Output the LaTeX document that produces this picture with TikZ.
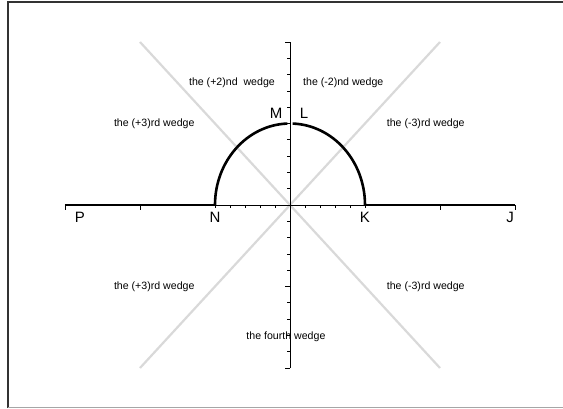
\documentclass[tikz,border=0pt]{standalone}
\usepackage{fontspec}
\setmainfont{Liberation Sans}
\usepackage{tikz}
\usetikzlibrary{positioning, calc}

\begin{document}
\begin{tikzpicture}[
    x=15pt, y=16.3pt,
    guide/.style={draw=black!15, line width=2.2pt},
    axis/.style={draw=black, line width=0.7pt},
    curve/.style={draw=black, line width=2.6pt},
    frameline/.style={draw=black!80, line width=1.4pt},
    wedgelabel/.style={font=\fontsize{10.6}{12}\selectfont, inner sep=0pt},
    ptlabel/.style={font=\fontsize{15}{17}\selectfont, inner sep=0pt}
]
    \useasboundingbox (-290pt,-203pt) rectangle (273pt,205pt);

    % frame
    \draw[frameline] (-282pt,-203pt) -- (-282pt,203pt) -- (273pt,203pt);
    \draw[draw=black!35, line width=1pt] (-282pt,-202pt) -- (273pt,-202pt);

    % points on the axis
    \coordinate (O) at (0,0);
    \coordinate (P) at (-15,0);
    \coordinate (N) at (-5,0);
    \coordinate (K) at (5,0);
    \coordinate (J) at (15,0);
    \coordinate (top) at (0,10);
    \coordinate (bottom) at (0,-10);

    % wedge boundaries
    \draw[guide] (-10,-10) -- (10,10);
    \draw[guide] (-10,10) -- (10,-10);

    % axes and ticks
    \draw[axis] (P) -- (J);
    \draw[axis] (bottom) -- (top);
    \foreach \i in {-5,...,5} \draw[axis] (\i,0) -- ++(0,-3pt);
    \foreach \i in {-15,-10,10,15} \draw[axis] (\i,0) -- ++(0,-5pt);
    \foreach \j in {-10,...,10} \draw[axis] (0,\j) -- ++(-3pt,0);
    \foreach \j in {-10,-5,5,10} \draw[axis] (0,\j) -- ++(-5pt,0);

    % Connectors
    \draw[curve] (P) -- (N);
    \draw[curve] (K) -- (J);
    \draw[curve] (N) arc[start angle=180, end angle=92, radius=5] coordinate (Mpt);
    \draw[curve] (K) arc[start angle=0, end angle=88, radius=5] coordinate (Lpt);

    % point labels
    \node[ptlabel] (labM) at (-0.93,5.62) {M};
    \node[ptlabel] (labL) at (0.93,5.62) {L};
    \node[ptlabel] (labP) at (-14,-0.74) {P};
    \node[ptlabel] (labN) at (-5,-0.74) {N};
    \node[ptlabel] (labK) at (5,-0.74) {K};
    \node[ptlabel] (labJ) at (14.67,-0.74) {J};

    % wedge labels
    \node[wedgelabel] (w2p) at (-3.87,7.48) {the (+2)nd\ \ wedge};
    \node[wedgelabel] (w2m) at (3.55,7.48) {the (-2)nd wedge};
    \node[wedgelabel] (w3pu) at (-9.05,4.97) {the (+3)rd wedge};
    \node[wedgelabel] (w3mu) at (9.05,4.97) {the (-3)rd wedge};
    \node[wedgelabel] (w3pl) at (-9.05,-5.03) {the (+3)rd wedge};
    \node[wedgelabel] (w3ml) at (9.05,-5.03) {the (-3)rd wedge};
    \node[wedgelabel] (w4) at (-0.27,-8.1) {the fourth wedge};
\end{tikzpicture}
\end{document}
